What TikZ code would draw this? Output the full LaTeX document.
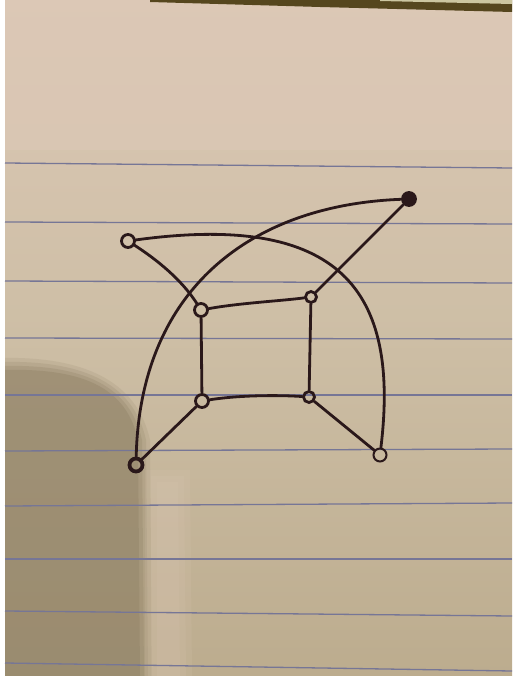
\documentclass[tikz,border=0pt]{standalone}
\usetikzlibrary{shapes.geometric}
\definecolor{ink}{RGB}{42,24,26}
\definecolor{paperTop}{RGB}{220,200,182}
\definecolor{paperMid}{RGB}{205,190,165}
\definecolor{paperBot}{RGB}{188,172,142}
\definecolor{shadowcol}{RGB}{140,126,98}
\definecolor{rule}{RGB}{118,118,150}
\definecolor{band}{RGB}{85,70,30}
\tikzset{
  vtx/.style={circle, draw=ink, line width=2.8pt, minimum size=13pt, inner sep=0pt},
  edge/.style={draw=ink, line width=2.8pt, line cap=round},
  ruling/.style={draw=rule, line width=1.3pt}
}
\begin{document}
\begin{tikzpicture}[x=1pt,y=-1pt]
\useasboundingbox (0,0) rectangle (512,676);
% paper
\shade[top color=paperTop, bottom color=paperBot, middle color=paperMid] (0,0) rectangle (512,676);
\fill[paperTop, opacity=0.6] (0,20) rectangle (512,150);
% shadow lower left (soft edge by layering)
\foreach \d/\o in {12/0.15,8/0.2,4/0.25,0/0.35}{
  \fill[shadowcol, opacity=\o] (0,{370-\d}) .. controls ({70+\d},{368-\d}) and ({125+\d},380) .. ({138+\d},440) -- ({140+\d},676) -- (0,676) -- cycle;
}
% light strip (soft)
\foreach \d in {0,6,12}{
  \fill[paperTop, opacity=0.15] ({145+\d},{470+\d}) -- ({190-\d},{470+\d}) -- ({192-\d},676) -- ({145+\d},676) -- cycle;
}
% top band
\fill[band] (150,0) -- (512,0) -- (512,12) -- (320,7) -- (150,2) -- cycle;
\fill[white!85!yellow, opacity=0.7] (380,0) -- (512,0) -- (512,4) -- (380,1) -- cycle;
% left white strip
\fill[white] (0,0) rectangle (5,676);
% rulings
\foreach \a/\b in {163/168,222/224,281/283,338/339,395/395,451/449,506/503,559/559,611/616,663/671}{
  \draw[ruling] (5,\a) -- (512,\b);
}
% vertices
\node[vtx] (A) at (128,241) {};
\node[vtx, fill=ink] (B) at (409,199) {};
\node[vtx] (C) at (201,310) {};
\node[vtx, minimum size=11pt] (D) at (311,297) {};
\node[vtx] (E) at (202,401) {};
\node[vtx, minimum size=11pt] (F) at (309,397) {};
\node[vtx, line width=3.8pt] (G) at (136,465) {};
\node[vtx, line width=2pt] (H) at (380,455) {};
% edges
\draw[edge] (A) .. controls (340,212) and (400,290) .. (H);
\draw[edge] (B) .. controls (250,205) and (140,290) .. (G);
\draw[edge] (A) .. controls (165,265) and (185,285) .. (C);
\draw[edge] (B) -- (D);
\draw[edge] (C) .. controls (240,303) and (280,301) .. (D);
\draw[edge] (C) -- (E);
\draw[edge] (D) -- (F);
\draw[edge] (E) .. controls (240,395) and (280,395) .. (F);
\draw[edge] (E) -- (G);
\draw[edge] (F) -- (H);
\end{tikzpicture}
\end{document}
